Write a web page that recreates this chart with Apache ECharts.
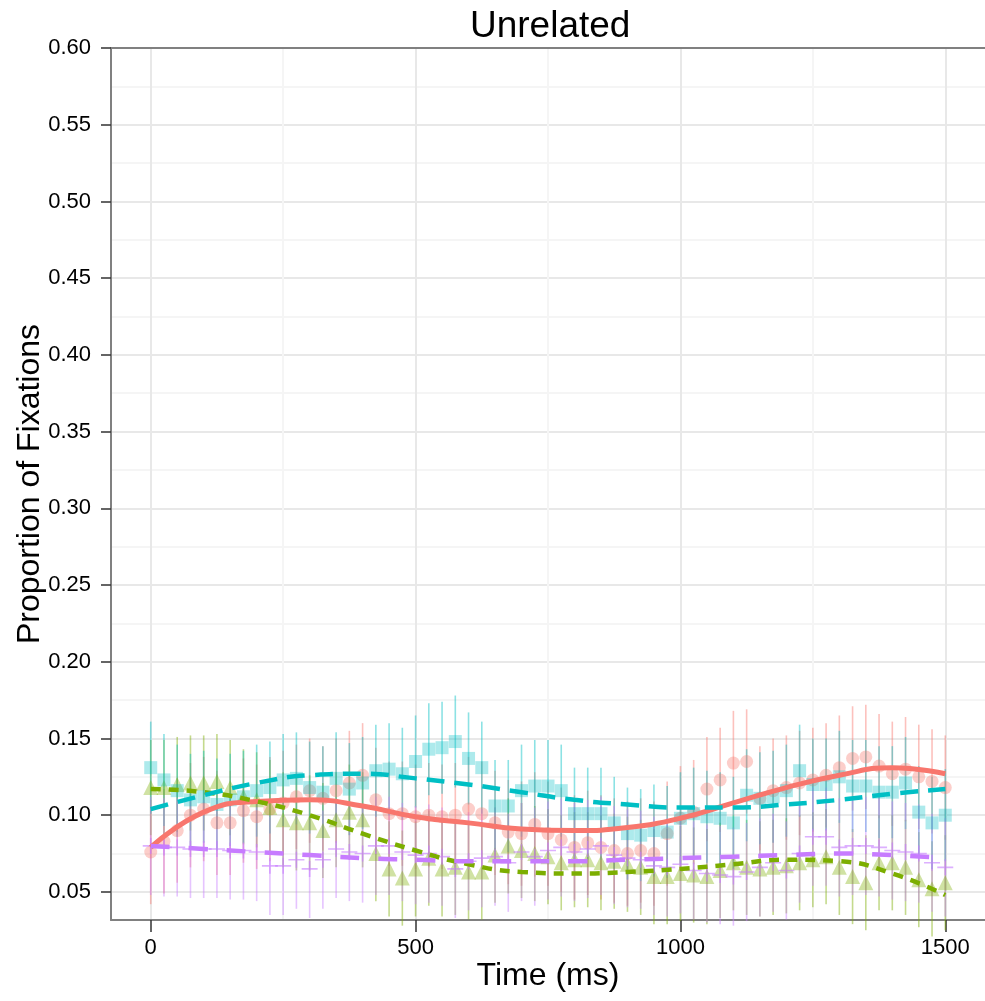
<!DOCTYPE html>
<html>
<head>
<meta charset="utf-8">
<script src="https://cdn.jsdelivr.net/npm/echarts@6/dist/echarts.min.js"></script>
<style>
html, body { margin: 0; padding: 0; background: #fff; }
#chart { width: 985px; height: 1001px; }
</style>
</head>
<body>
<div id="chart"></div>
<script>
// time bins (ms)
var times = [0, 25, 50, 75, 100, 125, 150, 175, 200, 225,
    250, 275, 300, 325, 350, 375, 400, 425, 450, 475,
    500, 525, 550, 575, 600, 625, 650, 675, 700, 725,
    750, 775, 800, 825, 850, 875, 900, 925, 950, 975,
    1000, 1025, 1050, 1075, 1100, 1125, 1150, 1175, 1200, 1225,
    1250, 1275, 1300, 1325, 1350, 1375, 1400, 1425, 1450, 1475, 1500];

// observed proportions per condition
var redPts = [0.076, 0.083, 0.090, 0.100, 0.104, 0.095, 0.095, 0.103, 0.099, 0.104,
    0.108, 0.112, 0.116, 0.111, 0.116, 0.121, 0.126, 0.110, 0.101, 0.101,
    0.099, 0.100, 0.099, 0.100, 0.104, 0.101, 0.095, 0.089, 0.088, 0.094,
    0.088, 0.084, 0.079, 0.082, 0.079, 0.077, 0.075, 0.077, 0.075, 0.088,
    0.098, 0.102, 0.117, 0.123, 0.134, 0.135, 0.111, 0.116, 0.118, 0.121,
    0.123, 0.126, 0.131, 0.137, 0.138, 0.132, 0.127, 0.130, 0.125, 0.122, 0.118];
var greenPts = [0.118, 0.118, 0.120, 0.121, 0.121, 0.122, 0.118, 0.112, 0.110, 0.105,
    0.097, 0.095, 0.095, 0.090, 0.097, 0.102, 0.097, 0.075, 0.065, 0.059,
    0.065, 0.072, 0.065, 0.066, 0.063, 0.063, 0.074, 0.080, 0.077, 0.075,
    0.073, 0.069, 0.071, 0.071, 0.069, 0.070, 0.068, 0.066, 0.060, 0.060,
    0.062, 0.061, 0.060, 0.064, 0.069, 0.066, 0.065, 0.066, 0.067, 0.069,
    0.071, 0.073, 0.066, 0.060, 0.056, 0.069, 0.069, 0.066, 0.058, 0.052, 0.056];
var cyanPts = [0.131, 0.123, 0.116, 0.110, 0.112, 0.107, 0.110, 0.112, 0.116, 0.118,
    0.123, 0.124, 0.118, 0.115, 0.124, 0.117, 0.121, 0.129, 0.130, 0.127,
    0.135, 0.143, 0.144, 0.148, 0.137, 0.131, 0.106, 0.106, 0.116, 0.119,
    0.119, 0.116, 0.101, 0.101, 0.101, 0.095, 0.088, 0.087, 0.090, 0.089,
    0.098, 0.101, 0.099, 0.098, 0.095, 0.113, 0.111, 0.112, 0.116, 0.129,
    0.120, 0.120, 0.125, 0.119, 0.119, 0.115, 0.115, 0.121, 0.102, 0.095, 0.100];
var purplePts = [0.080, 0.079, 0.079, 0.078, 0.078, 0.078, 0.077, 0.077, 0.076, 0.067,
    0.067, 0.071, 0.065, 0.071, 0.078, 0.076, 0.075, 0.080, 0.080, 0.076,
    0.074, 0.075, 0.073, 0.065, 0.070, 0.072, 0.073, 0.069, 0.076, 0.073,
    0.077, 0.079, 0.076, 0.078, 0.080, 0.074, 0.072, 0.071, 0.067, 0.066,
    0.068, 0.064, 0.062, 0.061, 0.060, 0.063, 0.066, 0.069, 0.064, 0.075,
    0.086, 0.086, 0.079, 0.080, 0.080, 0.079, 0.077, 0.076, 0.075, 0.069, 0.066];

// error bar half widths
var redErr = 0.034;
var greenErr = 0.031;
var cyanErr = 0.030;
var purpleErr = 0.032;

// fitted curves
var fitTimes = [0, 100, 200, 300, 400, 500, 600, 700, 800, 900, 1000, 1100, 1200, 1300, 1400, 1500];
var redFit = [0.079, 0.102, 0.109, 0.110, 0.106, 0.099, 0.095, 0.091, 0.090, 0.092, 0.098, 0.108, 0.118, 0.126, 0.131, 0.127];
var greenFit = [0.117, 0.115, 0.109, 0.100, 0.088, 0.077, 0.068, 0.063, 0.062, 0.063, 0.065, 0.068, 0.071, 0.070, 0.062, 0.048];
var cyanFit = [0.104, 0.113, 0.121, 0.126, 0.127, 0.124, 0.120, 0.115, 0.110, 0.107, 0.105, 0.105, 0.107, 0.110, 0.114, 0.117];
var purpleFit = [0.080, 0.078, 0.076, 0.074, 0.072, 0.071, 0.070, 0.070, 0.070, 0.071, 0.072, 0.073, 0.074, 0.075, 0.074, 0.072];

var yLabels = [0.05, 0.10, 0.15, 0.20, 0.25, 0.30, 0.35, 0.40, 0.45, 0.50, 0.55, 0.60];
var yMinor = [0.075, 0.125, 0.175, 0.225, 0.275, 0.325, 0.375, 0.425, 0.475, 0.525, 0.575];
var xLabels = [0, 500, 1000, 1500];
var xMinor = [250, 750, 1250];

var FONT = 'Liberation Sans, Arial, sans-serif';

function pairs(xs, ys) {
    var out = [];
    for (var i = 0; i < xs.length; i++) out.push([xs[i], ys[i]]);
    return out;
}

//误差线
function errorBars(vals, err, color) {
    var data = [];
    for (var i = 0; i < times.length; i++) {
        data.push([times[i], vals[i] - err, vals[i] + err]);
    }
    return {
        type: 'custom',
        data: data,
        encode: { x: 0, y: [1, 2] },
        silent: true,
        renderItem: function (params, api) {
            var lo = api.coord([api.value(0), api.value(1)]);
            var hi = api.coord([api.value(0), api.value(2)]);
            return {
                type: 'line',
                shape: { x1: lo[0], y1: lo[1], x2: hi[0], y2: hi[1] },
                style: { stroke: color, lineWidth: 1.6 }
            };
        }
    };
}

function points(vals, symbol, size, color) {
    return {
        type: 'scatter',
        data: pairs(times, vals),
        symbol: symbol,
        symbolSize: size,
        silent: true,
        itemStyle: { color: color }
    };
}

function fit(vals, color, dash, width) {
    return {
        type: 'line',
        data: pairs(fitTimes, vals),
        smooth: 0.5,
        showSymbol: false,
        silent: true,
        lineStyle: { color: color, width: width, type: dash, cap: 'butt' }
    };
}

var chart = echarts.init(document.getElementById('chart'));
var option = {
    animation: false,
    backgroundColor: '#fff',
    title: {
        text: 'Unrelated',
        left: 465,
        top: 3,
        textStyle: { fontFamily: FONT, fontSize: 37, fontWeight: 'normal', color: '#000' }
    },
    grid: { left: 111, right: 0, top: 48, bottom: 81, containLabel: false, outerBoundsMode: 'none' },
    xAxis: [{
        type: 'value',
        min: -75,
        max: 1575,
        name: 'Time (ms)',
        nameLocation: 'middle',
        nameGap: 40,
        nameMoveOverlap: false,
        nameTextStyle: { fontFamily: FONT, fontSize: 32, color: '#000' },
        axisLine: { onZero: false, lineStyle: { color: '#808080', width: 2 } },
        axisTick: { show: true, length: 12, customValues: xLabels, lineStyle: { color: '#333', width: 1.5 } },
        axisLabel: {
            customValues: xLabels, fontFamily: FONT, fontSize: 22, color: '#000', margin: 17,
            formatter: function (v) { return String(v); }
        },
        splitLine: { show: true, lineStyle: { color: '#e8e8e8', width: 2 } }
    }, {
        type: 'value',
        position: 'top',
        min: -75,
        max: 1575,
        axisLine: { show: true, onZero: false, lineStyle: { color: '#808080', width: 2 } },
        axisTick: { show: false, customValues: xMinor },
        axisLabel: { show: false },
        splitLine: { show: true, lineStyle: { color: '#f5f5f5', width: 2 } }
    }],
    yAxis: [{
        type: 'value',
        min: 0.0317,
        max: 0.6,
        name: 'Proportion of Fixations',
        nameLocation: 'middle',
        nameGap: 65,
        nameMoveOverlap: false,
        nameTextStyle: { fontFamily: FONT, fontSize: 32, color: '#000' },
        axisLine: { show: true, onZero: false, lineStyle: { color: '#808080', width: 2 } },
        axisTick: { show: true, length: 10, customValues: yLabels, lineStyle: { color: '#333', width: 1.5 } },
        axisLabel: {
            customValues: yLabels, fontFamily: FONT, fontSize: 22, color: '#000', margin: 20,
            formatter: function (v) { return v.toFixed(2); }
        },
        splitLine: { show: true, lineStyle: { color: '#e8e8e8', width: 2 } }
    }, {
        type: 'value',
        min: 0.0317,
        max: 0.6,
        axisLine: { show: false, onZero: false },
        axisTick: { show: false, customValues: yMinor },
        axisLabel: { show: false },
        splitLine: { show: true, lineStyle: { color: '#f5f5f5', width: 2 } }
    }],
    series: [
        errorBars(redPts, redErr, 'rgba(248,118,109,0.45)'),
        errorBars(greenPts, greenErr, 'rgba(124,174,0,0.45)'),
        errorBars(cyanPts, cyanErr, 'rgba(0,191,196,0.45)'),
        errorBars(purplePts, purpleErr, 'rgba(199,124,255,0.45)'),
        points(redPts, 'circle', 13, 'rgba(248,118,109,0.45)'),
        points(greenPts, 'triangle', 15, 'rgba(124,174,0,0.45)'),
        points(cyanPts, 'rect', 13, 'rgba(0,191,196,0.4)'),
        points(purplePts, 'path://M0,9H20V11H0Z M9,0H11V20H9Z', 16, 'rgba(199,124,255,0.75)'),
        fit(redFit, '#F8766D', 'solid', 5),
        fit(greenFit, '#7CAE00', [10, 8], 4.5),
        fit(cyanFit, '#00BFC4', [18, 10], 4.5),
        fit(purpleFit, '#C77CFF', [19, 19], 4.5)
    ]
};
chart.setOption(option);
</script>
</body>
</html>
